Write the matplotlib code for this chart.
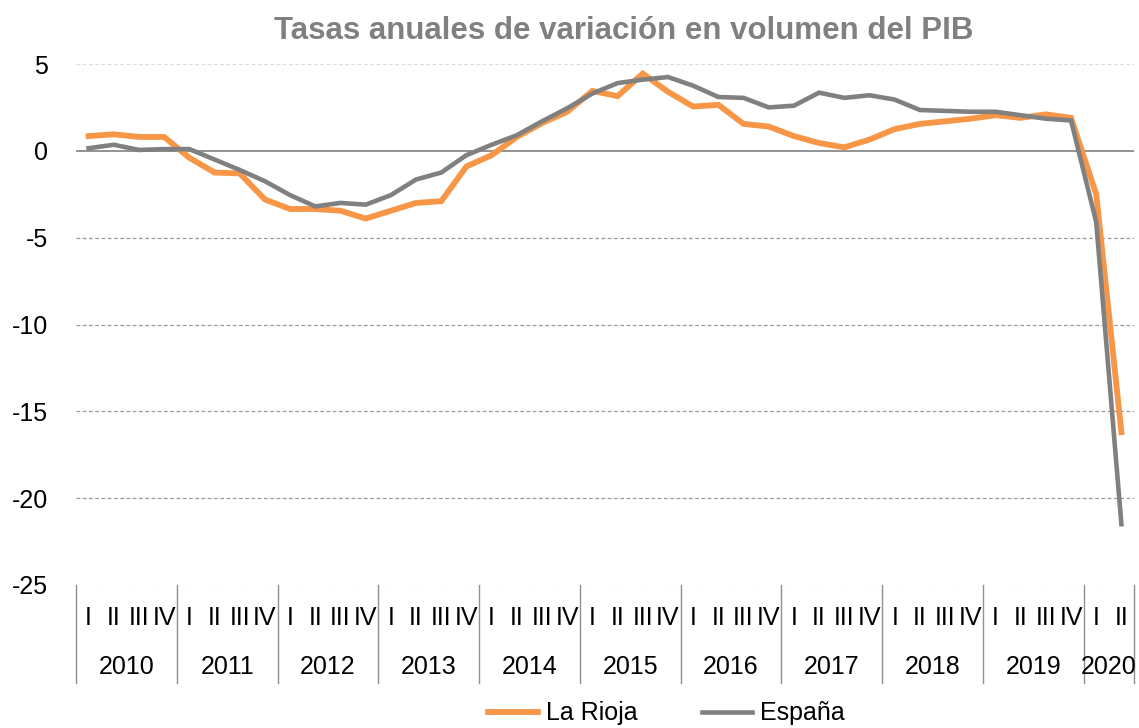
import matplotlib
matplotlib.use('Agg')
import matplotlib.pyplot as plt
import numpy as np

plt.rcParams['font.family'] = ['Liberation Sans', 'DejaVu Sans']

years = ['2010', '2011', '2012', '2013', '2014', '2015', '2016', '2017', '2018', '2019', '2020']
quarters = ['I', 'II', 'III', 'IV']

la_rioja = [0.85, 0.95, 0.8, 0.8, -0.4, -1.25, -1.3, -2.8, -3.35, -3.35, -3.45, -3.9,
            -3.45, -3.0, -2.9, -0.9, -0.25, 0.8, 1.6, 2.25, 3.45, 3.15, 4.45, 3.4,
            2.55, 2.65, 1.55, 1.4, 0.85, 0.45, 0.2, 0.65, 1.25, 1.55, 1.7, 1.85,
            2.05, 1.9, 2.1, 1.9, -2.5, -16.2]
espana = [0.15, 0.35, 0.05, 0.1, 0.1, -0.5, -1.1, -1.75, -2.55, -3.2, -3.0, -3.1,
          -2.55, -1.65, -1.25, -0.25, 0.35, 0.9, 1.7, 2.45, 3.3, 3.9, 4.1, 4.25,
          3.75, 3.1, 3.05, 2.5, 2.6, 3.35, 3.05, 3.2, 2.95, 2.35, 2.3, 2.25,
          2.25, 2.05, 1.85, 1.75, -4.1, -21.5]

orange = '#F79646'
grey = '#808080'
fs = 18

fig = plt.figure(figsize=(11.39, 7.28), dpi=100)
ax = fig.add_axes([76 / 1139, 1 - 585 / 728, (1134 - 76) / 1139, (585 - 64) / 728])

n = len(la_rioja)
x = np.arange(n) + 0.5
ax.plot(x, la_rioja, color=orange, lw=4.2, label='La Rioja', solid_joinstyle='miter')
ax.plot(x, espana, color=grey, lw=3.3, label='España', solid_joinstyle='miter')

ax.set_xlim(0, n)
ax.set_ylim(-25, 5)
ax.set_yticks(np.arange(-25, 6, 5))
ax.set_yticklabels([str(v) for v in range(-25, 6, 5)], fontsize=fs)
ax.tick_params(axis='y', length=0, pad=20)
ax.set_xticks([])
for s in ax.spines.values():
    s.set_visible(False)

# grid lines
for v in [-20, -15, -10, -5]:
    ax.axhline(v, color='#9a9a9a', lw=0.9, ls=(0, (3, 2)), zorder=0)
for v in [5, -25]:
    ax.axhline(v, color='#dddddd', lw=0.9, ls=(0, (3, 2)), zorder=0)
ax.axhline(0, color='#808080', lw=1.2, zorder=1)

# multi-level category axis
trans = ax.get_xaxis_transform()
for i in range(n):
    ax.text(x[i], -0.064, quarters[i % 4], transform=trans, ha='center', va='center',
            fontsize=fs, clip_on=False)
for k, yr in enumerate(years):
    start = k * 4
    end = min(start + 4, n)
    ax.text((start + end) / 2, -0.158, yr, transform=trans, ha='center', va='center',
            fontsize=fs, clip_on=False)
for b in list(range(0, n, 4)) + [n]:
    ax.plot([b, b], [0, -0.188], transform=trans, color='#909090', lw=1.0, clip_on=False)

fig.text(0.548, 0.958, 'Tasas anuales de variación en volumen del PIB', ha='center',
         va='center', fontsize=22.5, fontweight='bold', color='#808080')

fig.legend(loc='center', bbox_to_anchor=(0.585, 0.02), ncol=2, frameon=False, fontsize=fs,
           handlelength=2.0, handletextpad=0.3, columnspacing=2.6)

fig.savefig('out.png', dpi=100)
